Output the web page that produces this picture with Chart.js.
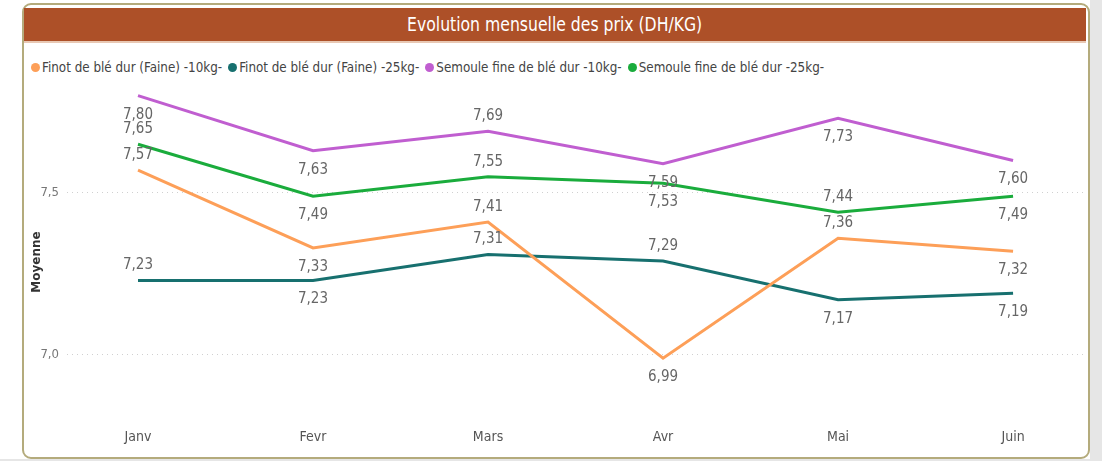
<!DOCTYPE html>
<html>
<head>
<meta charset="utf-8">
<script src="https://cdn.jsdelivr.net/npm/chart.js@4.4.1/dist/chart.umd.min.js"></script>
<style>
  html, body { margin:0; padding:0; width:1102px; height:461px; overflow:hidden; background:#ffffff; }
  #gray-r { position:absolute; left:1090px; top:0; width:12px; height:461px; background:#e6e6e6; }
  #gray-b { position:absolute; left:0; top:459px; width:1102px; height:2px; background:#e6e6e6; }
  #card { position:absolute; left:22px; top:3px; width:1064px; height:452px; border:2px solid #b4ab7c; border-radius:9px; background:#fff; box-sizing:content-box; }
  #titlebar { position:absolute; left:24px; top:8px; width:1062px; height:33px; background:#ad5028; border-bottom:2px solid #e8c8b4; color:#fff;
    font-family:"DejaVu Sans Condensed","Open Sans",sans-serif; font-size:20px; line-height:33px; text-align:center; }
  #titlebar span { display:inline-block; transform:scaleX(0.87); transform-origin:center; }
  #legend { position:absolute; left:31px; top:60px; font-family:"DejaVu Sans Condensed","Open Sans",sans-serif; font-size:13.3px; color:#444; white-space:nowrap; }
  #legend span.item { margin-right:6px; }
  #legend span.dot { display:inline-block; width:9px; height:9px; border-radius:50%; margin-right:2px; vertical-align:0px; }
  canvas { position:absolute; left:0; top:0; }
</style>
</head>
<body>
<div id="gray-r"></div><div id="gray-b"></div>
<div id="card"></div>
<div id="titlebar"><span>Evolution mensuelle des prix (DH/KG)</span></div>
<div id="legend"></div>
<canvas id="c" width="1102" height="461"></canvas>
<script>
// ---- data ----
const months = ["Janv", "Fevr", "Mars", "Avr", "Mai", "Juin"];
const seriesNames = [
  "Finot de blé dur (Faine) -10kg-",
  "Finot de blé dur (Faine) -25kg-",
  "Semoule fine de blé dur -10kg-",
  "Semoule fine de blé dur -25kg-"
];
const finot10 = [7.57, 7.33, 7.41, 6.99, 7.36, 7.32];
const finot25 = [7.23, 7.23, 7.31, 7.29, 7.17, 7.19];
const semoule10 = [7.80, 7.63, 7.69, 7.59, 7.73, 7.60];
const semoule25 = [7.65, 7.49, 7.55, 7.53, 7.44, 7.49];
const yTicks = [7.0, 7.5];

const colors = ["#fd9f58", "#17706f", "#c05ed0", "#1aac3c"];
const sides = [
  ["up","down","up","down","up","down"],
  ["up","down","up","up","down","down"],
  ["down","down","up","down","down","down"],
  ["up","down","up","down","up","down"]
];
const values = [finot10, finot25, semoule10, semoule25];

const FONT = '"DejaVu Sans Condensed","Open Sans",sans-serif';

// HTML legend
const lg = document.getElementById('legend');
seriesNames.forEach((n, i) => {
  const s = document.createElement('span'); s.className = 'item';
  s.innerHTML = '<span class="dot" style="background:' + colors[i] + '"></span>' + n;
  lg.appendChild(s);
});

const datasets = values.map((arr, i) => ({
  label: seriesNames[i],
  data: arr.map((v, k) => ({ x: k, y: v })),
  borderColor: colors[i],
  backgroundColor: colors[i],
  borderWidth: 3,
  pointRadius: 0,
  tension: 0,
  labelSides: sides[i]
}));

const labelsPlugin = {
  id: 'valueLabels',
  afterDatasetsDraw(chart) {
    const ctx = chart.ctx;
    ctx.save();
    ctx.font = '15px ' + FONT;
    ctx.fillStyle = '#666666';
    ctx.textAlign = 'center';
    ctx.textBaseline = 'middle';
    chart.data.datasets.forEach((ds, di) => {
      const meta = chart.getDatasetMeta(di);
      meta.data.forEach((pt, k) => {
        const v = ds.data[k].y;
        const txt = v.toFixed(2).replace('.', ',');
        const dy = ds.labelSides[k] === 'up' ? -15 : 19;
        ctx.fillText(txt, pt.x, pt.y + dy);
      });
    });
    ctx.restore();
  }
};

const yTitlePlugin = {
  id: 'yTitle',
  afterDraw(chart) {
    const ctx = chart.ctx;
    ctx.save();
    ctx.translate(37, 262);
    ctx.rotate(-Math.PI / 2);
    ctx.font = 'bold 12px "DejaVu Sans", sans-serif';
    ctx.fillStyle = '#333333';
    ctx.textAlign = 'center';
    ctx.textBaseline = 'middle';
    ctx.fillText('Moyenne', 0, 0);
    ctx.restore();
  }
};

new Chart(document.getElementById('c'), {
  type: 'line',
  data: { datasets },
  options: {
    responsive: false,
    animation: false,
    layout: { padding: { top: 85, left: 27, right: 17, bottom: 11 } },
    plugins: { legend: { display: false }, tooltip: { enabled: false } },
    scales: {
      x: {
        type: 'linear',
        min: -0.4057, max: 5.411,
        afterBuildTicks(scale) { scale.ticks = months.map((m, i) => ({ value: i })); },
        afterFit(scale) { scale.height = 40; },
        grid: { display: false, drawTicks: false },
        border: { display: false },
        ticks: {
          callback: (v) => months[v],
          color: '#555555',
          font: { family: FONT, size: 14 },
          padding: 19,
          maxRotation: 0, autoSkip: false
        }
      },
      y: {
        min: 6.830, max: 7.833,
        afterBuildTicks(scale) { scale.ticks = yTicks.map(v => ({ value: v })); },
        afterFit(scale) { scale.width = 40; },
        grid: { color: '#d0d0d0', lineWidth: 1, drawTicks: false },
        border: { display: false, dash: [1, 4] },
        ticks: {
          callback: (v) => v.toFixed(1).replace('.', ','),
          color: '#777777',
          font: { family: FONT, size: 13 },
          padding: 8
        }
      }
    }
  },
  plugins: [labelsPlugin, yTitlePlugin]
});
</script>
</body>
</html>
